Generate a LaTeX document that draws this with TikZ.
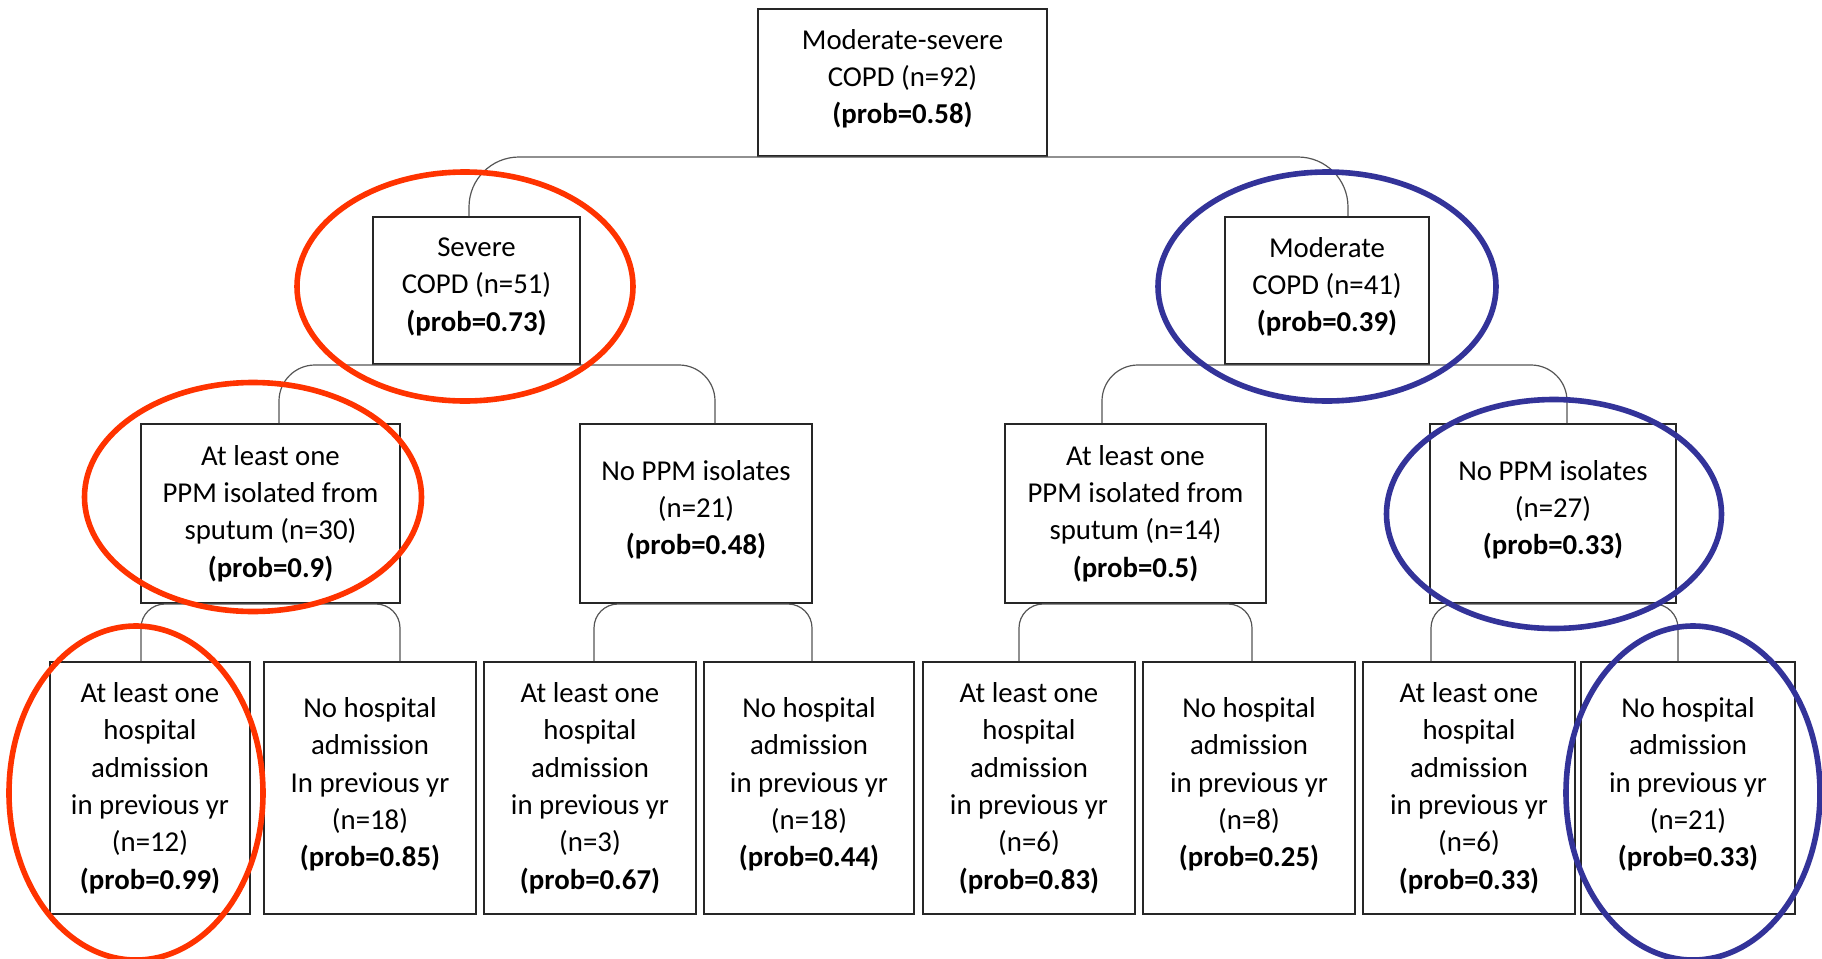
\documentclass[tikz,border=0pt]{standalone}
\usepackage{fontspec}
\setmainfont{Carlito}
\usetikzlibrary{calc}
\definecolor{ringred}{RGB}{255,51,0}
\definecolor{ringblue}{RGB}{51,51,153}
\definecolor{linkgray}{RGB}{85,85,85}
\newcommand{\prob}[1]{\textbf{(prob=#1)}}

\begin{document}
\begin{tikzpicture}[x=0.5pt,y=-0.5pt,
  font=\fontsize{14.4}{18.7}\selectfont,
  box/.style={draw=black!85,line width=1pt,align=center,inner sep=0pt},
  lift/.style={execute at end node={\rule[-6pt]{0pt}{0pt}}},
  topbox/.style={box,lift,minimum height=73.5pt},
  midbox/.style={box,minimum height=89.5pt},
  leafbox/.style={box,minimum height=126pt,minimum width=106pt},
  link/.style={draw=linkgray,line width=0.6pt},
  ring/.style={line width=2.8pt}]
  \useasboundingbox (0,0) rectangle (1822,959);
  % level 1 and 2
  \node[topbox,minimum width=144.5pt] (root) at (902.5,82.5)
    {Moderate-severe\\COPD (n=92)\\\prob{0.58}};
  \node[topbox,minimum width=103.5pt] (sev) at (476.5,290.5)
    {Severe\\COPD (n=51)\\\prob{0.73}};
  \node[topbox,minimum width=102pt] (mod) at (1327,290.5)
    {Moderate\\COPD (n=41)\\\prob{0.39}};
  % level 3
  \node[midbox,minimum width=129.5pt] (ppmA) at (270.5,513.5)
    {At least one\\PPM isolated from\\sputum (n=30)\\\prob{0.9}};
  \node[midbox,lift,minimum width=116pt] (noppmA) at (696,513.5)
    {No PPM isolates\\(n=21)\\\prob{0.48}};
  \node[midbox,minimum width=130.5pt] (ppmB) at (1135.5,513.5)
    {At least one\\PPM isolated from\\sputum (n=14)\\\prob{0.5}};
  \node[midbox,lift,minimum width=123pt] (noppmB) at (1553,513.5)
    {No PPM isolates\\(n=27)\\\prob{0.33}};
  % level 4
  \node[leafbox,minimum width=100pt] (hosp1) at (150,788)
    {At least one\\hospital\\admission\\in previous yr\\(n=12)\\\prob{0.99}};
  \node[leafbox,lift] (nohosp1) at (370,788)
    {No hospital\\admission\\In previous yr\\(n=18)\\\prob{0.85}};
  \node[leafbox] (hosp2) at (590,788)
    {At least one\\hospital\\admission\\in previous yr\\(n=3)\\\prob{0.67}};
  \node[leafbox,lift,minimum width=105pt] (nohosp2) at (809,788)
    {No hospital\\admission\\in previous yr\\(n=18)\\\prob{0.44}};
  \node[leafbox] (hosp3) at (1029,788)
    {At least one\\hospital\\admission\\in previous yr\\(n=6)\\\prob{0.83}};
  \node[leafbox,lift] (nohosp3) at (1249,788)
    {No hospital\\admission\\in previous yr\\(n=8)\\\prob{0.25}};
  \node[leafbox] (hosp4) at (1469,788)
    {At least one\\hospital\\admission\\in previous yr\\(n=6)\\\prob{0.33}};
  \node[leafbox,lift,minimum width=107pt] (nohosp4) at (1688,788)
    {No hospital\\admission\\in previous yr\\(n=21)\\\prob{0.33}};
  % branches
  \foreach \p/\l/\dl/\r/\dr/\rc in {root/sev/-7.5/mod/21/25pt,
      sev/ppmA/8.5/noppmA/19/18pt, mod/ppmB/-33.5/noppmB/14/18pt,
      ppmA/hosp1/-9/nohosp1/30/12pt, noppmA/hosp2/4/nohosp2/3/12pt,
      ppmB/hosp3/-10/nohosp3/3/12pt, noppmB/hosp4/-38/nohosp4/-10/12pt} {
    \draw[link,rounded corners=\rc] ($(\l.north)+(\dl,0)$) |- (\p.south)
      -| ($(\r.north)+(\dr,0)$);
  }
  % highlights
  \draw[ring,ringred] (465,286.5) ellipse [x radius=168,y radius=114.5];
  \draw[ring,ringred] (253,497) ellipse [x radius=168.5,y radius=114.5];
  \draw[ring,ringred] (136,793) ellipse [x radius=127,y radius=167];
  \draw[ring,ringblue] (1327,286.5) ellipse [x radius=169,y radius=114.5];
  \draw[ring,ringblue] (1554,514) ellipse [x radius=167.5,y radius=114.5];
  \draw[ring,ringblue] (1693,793) ellipse [x radius=127,y radius=167];
\end{tikzpicture}
\end{document}
